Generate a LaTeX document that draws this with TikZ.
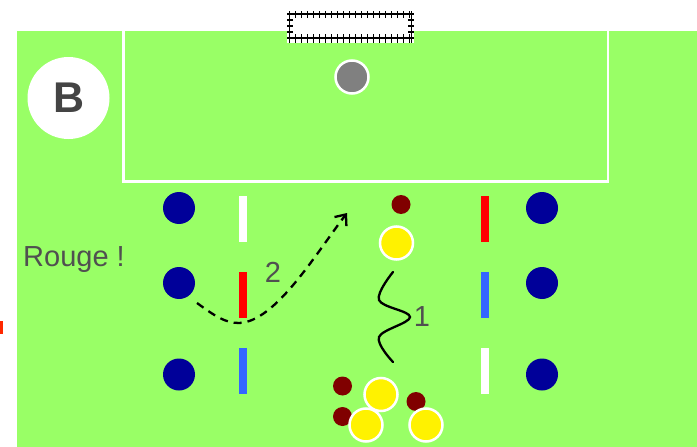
\documentclass[tikz,border=0pt]{standalone}
\usepackage{fontspec}
\setmainfont{Liberation Sans}
\usetikzlibrary{arrows.meta}
\definecolor{field}{RGB}{153,255,102}
\definecolor{defblue}{RGB}{0,0,153}
\definecolor{maroonb}{RGB}{128,0,0}
\definecolor{stickblue}{RGB}{51,102,255}
\definecolor{txtgray}{RGB}{80,80,80}
\definecolor{bgray}{RGB}{68,68,68}
\definecolor{markred}{RGB}{255,40,0}
\tikzset{
  defender/.style={circle, fill=defblue, minimum size=32pt, inner sep=0pt},
  attacker/.style={circle, fill=yellow, draw=white, line width=2.5pt, minimum size=33pt, inner sep=0pt},
  smallball/.style={circle, fill=maroonb, minimum size=19pt, inner sep=0pt},
  stickbox/.style={minimum width=8pt, minimum height=46pt, inner sep=0pt},
  lbl/.style={text=txtgray, font=\fontsize{29}{31}\selectfont, inner sep=0pt},
  netline/.style={black, line width=1.3pt}
}
\begin{document}
\begin{tikzpicture}[x=1pt,y=-1pt]
\useasboundingbox (0,0) rectangle (697,447);
% field
\fill[field] (17,31) rectangle (697,447);
% penalty box
\draw[white, line width=2.6pt] (123.5,31) -- (123.5,181.5) -- (608,181.5) -- (608,31);
% goal
\fill[white] (287,11) rectangle (414,43);
\draw[netline] (287,14) -- (414,14);
\draw[netline] (287,38) -- (414,38);
\draw[netline] (289.5,11) -- (289.5,43);
\draw[netline] (411.5,11) -- (411.5,43);
\foreach \x in {289.5,295.5,...,411.5} {
  \draw[netline] (\x,11) -- (\x,18);
  \draw[netline] (\x,34) -- (\x,43);
}
\foreach \y in {20,26,32} {
  \draw[netline] (287,\y) -- (293,\y);
  \draw[netline] (408,\y) -- (414,\y);
}
% red mark at left edge
\fill[markred] (0,321) rectangle (2.5,334);
% goal ball
\node[circle, fill=gray, draw=white, line width=2.5pt, minimum size=33pt, inner sep=0pt] (gball) at (352,77) {};
% B badge
\node[circle, fill=white, minimum size=82pt, inner sep=0pt] (badge) at (68.5,98) {};
\node[text=bgray, font=\bfseries\fontsize{43}{43}\selectfont, inner sep=0pt] (blabel) at (69,98) {B};
% defenders
\node[defender] (dl1) at (179,208) {};
\node[defender] (dl2) at (179,283) {};
\node[defender] (dl3) at (179,374.5) {};
\node[defender] (dr1) at (542,208) {};
\node[defender] (dr2) at (542,283) {};
\node[defender] (dr3) at (542,374.5) {};
% sticks
\node[stickbox, fill=white] (sl1) at (243,219) {};
\node[stickbox, fill=red] (sl2) at (243,295) {};
\node[stickbox, fill=stickblue] (sl3) at (243,371) {};
\node[stickbox, fill=red] (sr1) at (485,219) {};
\node[stickbox, fill=stickblue] (sr2) at (485,295) {};
\node[stickbox, fill=white] (sr3) at (485,371) {};
% players and balls
\node[smallball] (b1) at (401,204.5) {};
\node[attacker] (p1) at (396.5,243) {};
\node[smallball] (b2) at (342.5,386) {};
\node[smallball] (b3) at (342.5,416.5) {};
\node[smallball] (b4) at (416,401.5) {};
\node[attacker] (p2) at (381,394.5) {};
\node[attacker] (p3) at (366,425) {};
\node[attacker] (p4) at (426,425) {};
% texts
\node[lbl, anchor=base west] (rouge) at (23,266) {Rouge !};
\node[lbl] (two) at (273,272) {2};
\node[lbl] (one) at (422,317) {1};
% dashed run
\coordinate (runA) at (197,303);
\coordinate (runB) at (239,323);
\coordinate (runC) at (347,213);
\draw[black, line width=2.3pt, dash pattern=on 8pt off 6pt, -{Straight Barb[length=9pt, width=15pt, line width=2.3pt]}]
  (runA) .. controls (215,316) and (225,323) .. (runB)
  .. controls (275,322) and (315,255) .. (runC);
% dribble squiggle
\coordinate (dA) at (393,272);
\coordinate (dE) at (393,362);
\draw[black, line width=2.3pt, line cap=round] plot[smooth, tension=0.6] coordinates {(393,272) (379,300) (410,317) (379,337) (393,362)};
\end{tikzpicture}
\end{document}
